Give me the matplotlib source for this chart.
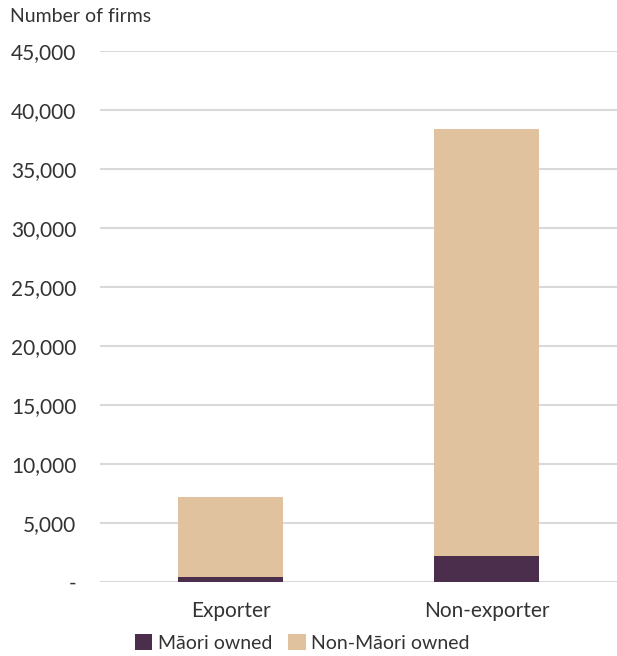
import numpy as np
import matplotlib.pyplot as plt
from matplotlib.ticker import FuncFormatter

categories = ["Exporter", "Non-exporter"]
maori = [450, 2200]
non_maori = [6750, 36200]
series_names = ["Māori owned", "Non-Māori owned"]
colors = ["#4a2e4b", "#e1c29f"]

plt.rcParams["font.family"] = ["Lato", "DejaVu Sans"]
text_col = "#333333"

fig = plt.figure(figsize=(6.17, 6.56), dpi=100)
ax = fig.add_axes([0.162, 0.1128, 0.838, 0.8094])

x = np.arange(len(categories))
w = 0.41
b1 = ax.bar(x, maori, w, color=colors[0], label=series_names[0], zorder=3)
b2 = ax.bar(x, non_maori, w, bottom=maori, color=colors[1], label=series_names[1], zorder=3)

ax.set_xlim(-0.51, 1.51)
ax.set_ylim(0, 45000)
ax.set_yticks(np.arange(0, 45001, 5000))
ax.yaxis.set_major_formatter(FuncFormatter(lambda v, p: "-" if v == 0 else f"{v:,.0f}"))
ax.set_xticks(x)
ax.set_xticklabels(categories)
ax.grid(True, axis="y", color="#d9d9d9", linewidth=1.5, zorder=0)
for s in ax.spines.values():
    s.set_visible(False)
ax.tick_params(axis="both", length=0, labelsize=15, colors=text_col)
ax.tick_params(axis="y", pad=17)
ax.tick_params(axis="x", pad=14)

fig.text(0.016, 0.975, "Number of firms", fontsize=14, color=text_col, va="center", ha="left")

fig.legend(handles=[b1, b2], loc="center", bbox_to_anchor=(0.49, 0.02), ncol=2,
           frameon=False, fontsize=14, handlelength=0.9, handleheight=0.9,
           handletextpad=0.3, columnspacing=0.8, labelcolor=text_col)

plt.savefig("out.png", dpi=100)
